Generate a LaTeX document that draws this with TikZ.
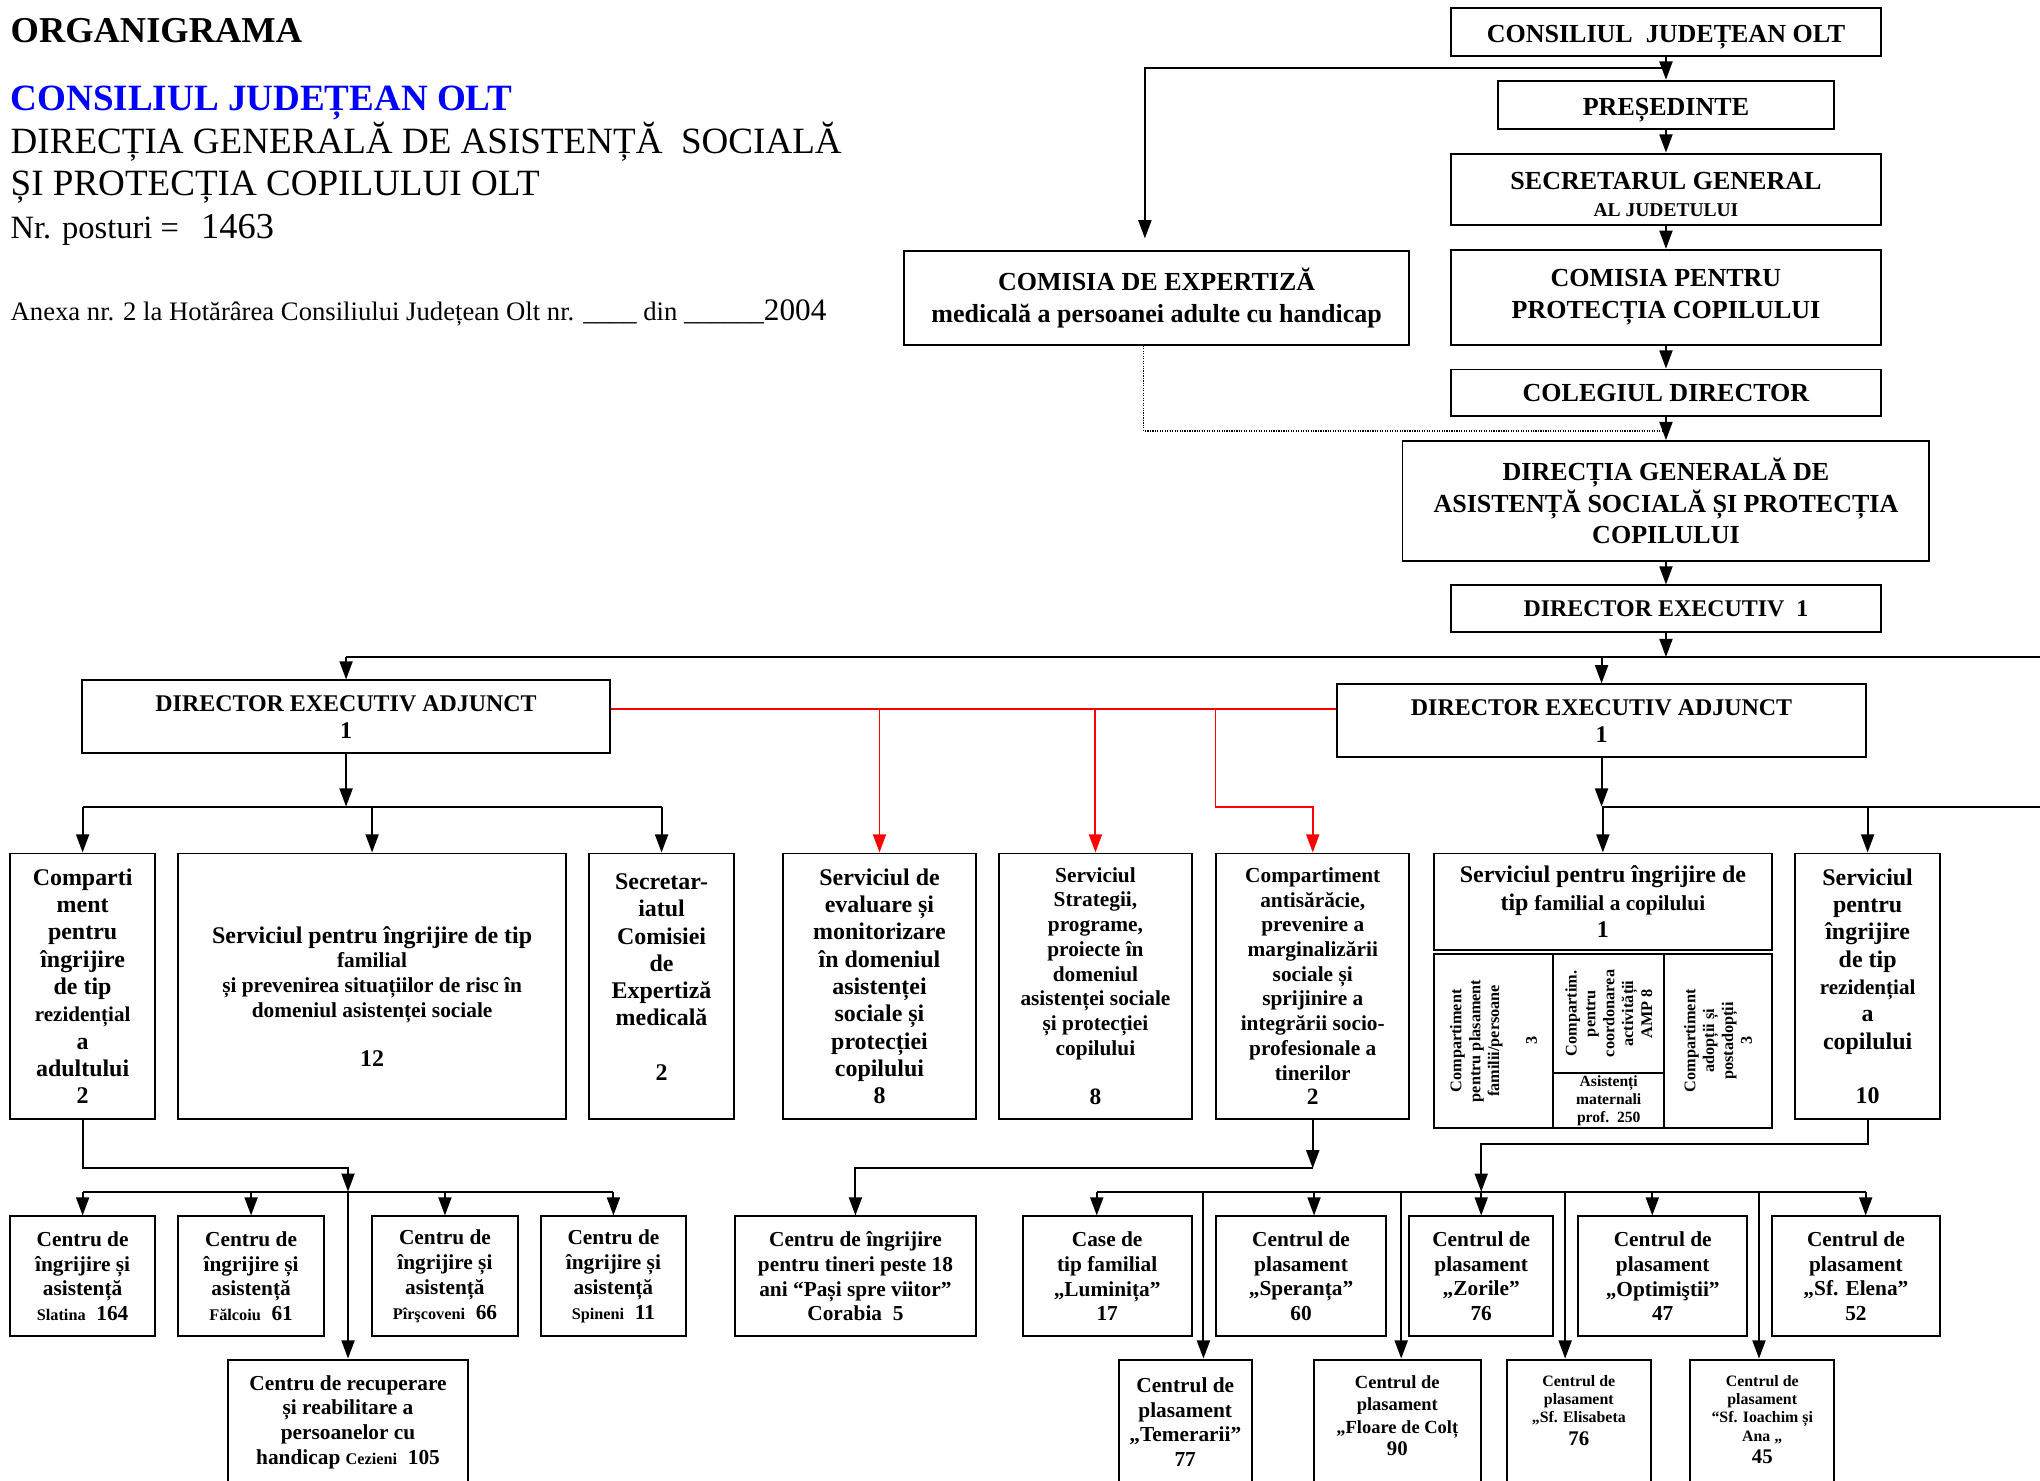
\documentclass[tikz,border=0pt]{standalone}
\usepackage{fontspec}
\setmainfont{Liberation Serif}
\usepackage{tikz}
\usetikzlibrary{arrows.meta}
\usetikzlibrary{calc}
\newcommand{\fsz}[2]{\fontsize{#1}{#2}\selectfont}
\definecolor{titleblue}{RGB}{0,0,255}

\begin{document}
\begin{tikzpicture}[x=1pt, y=-1pt,
    blk/.style={draw, line width=1.5pt, align=center, inner sep=1pt},
    hdbox/.style={blk, font=\bfseries\fsz{20}{24}},
    midbox/.style={blk, font=\bfseries\fsz{18.4}{21}},
    smlbox/.style={blk, font=\bfseries\fsz{16.4}{19}},
    cellbox/.style={blk, font=\bfseries\fsz{12.5}{14.5}, inner sep=0pt},
    hdtext/.style={anchor=base west, inner sep=0pt},
    ln/.style={line width=1.5pt},
    arr/.style={ln, -{Triangle[length=14pt,width=10pt]}},
    rln/.style={ln, red},
    rarr/.style={arr, red},
    dotln/.style={line width=0.9pt, densely dotted}]
  \useasboundingbox (0,0) rectangle (1568,1138);
  \clip (0,0) rectangle (1568,1138);
  \fill[white] (0,0) rectangle (1568,1138);

  % header
  \node[hdtext, font=\bfseries\fsz{28}{28}] (ttl) at (8,33) {ORGANIGRAMA};
  \node[hdtext, font=\bfseries\fsz{28.5}{28.5}, text=titleblue] (cjt) at (8,85) {CONSILIUL JUDEȚEAN OLT};
  \node[hdtext, font=\fsz{28.5}{28.5}] (dg1) at (8,118) {DIRECȚIA GENERALĂ DE ASISTENȚĂ\ \ SOCIALĂ};
  \node[hdtext, font=\fsz{28.5}{28.5}] (dg2) at (8,150) {ȘI PROTECȚIA COPILULUI OLT};
  \node[hdtext, font=\fsz{25}{25}] (npost) at (8,183) {Nr. posturi =\hspace{17pt}{\fsz{28}{28}1463}};
  \node[hdtext, font=\fsz{20.5}{20.5}] (anexa) at (8,246) {Anexa nr. 2 la Hotărârea Consiliului Județean Olt nr. \_\_\_\_ din \_\_\_\_\_\_{\fsz{24}{24}2004}};

  % upper chain
  \node[hdbox, minimum width=331pt, minimum height=37pt] (cjo) at (1280.5,24.5) {\rule{0pt}{22pt}CONSILIUL\ \ JUDEȚEAN OLT};
  \node[hdbox, minimum width=258pt, minimum height=37pt] (pres) at (1280.5,80.5) {\rule{0pt}{21pt}PREȘEDINTE};
  \node[hdbox, minimum width=331pt, minimum height=55pt] (secg) at (1280.5,145.5) {\rule{0pt}{21pt}SECRETARUL GENERAL\\[-3pt]\fsz{15}{18}AL JUDETULUI};
  \node[hdbox, minimum width=331pt, minimum height=73pt] (cpc) at (1280.5,228.5) {COMISIA PENTRU\\PROTECȚIA COPILULUI};
  \node[hdbox, minimum width=331pt, minimum height=36pt] (coleg) at (1280.5,302) {COLEGIUL DIRECTOR};
  \node[hdbox, minimum width=405pt, minimum height=92pt] (dgas) at (1280.5,385) {DIRECȚIA GENERALĂ DE\\ASISTENȚĂ SOCIALĂ ȘI PROTECȚIA\\COPILULUI};
  \node[midbox, minimum width=331pt, minimum height=36pt] (dexec) at (1280.5,468) {DIRECTOR EXECUTIV\ \ 1};
  \node[hdbox, minimum width=388pt, minimum height=72pt] (cemed) at (889,229) {COMISIA DE EXPERTIZĂ\\medicală a persoanei adulte cu handicap};

  \node[midbox, minimum width=406pt, minimum height=56pt] (dea1) at (266,551) {DIRECTOR EXECUTIV ADJUNCT\\1};
  \node[midbox, minimum width=406pt, minimum height=56pt] (dea2) at (1231,554) {DIRECTOR EXECUTIV ADJUNCT\\1};

  % first row
  \node[midbox, minimum width=111pt, minimum height=204pt] (r1a) at (63.5,758) {Comparti\\ment\\pentru\\îngrijire\\de tip\\\fsz{16.2}{21}rezidențial\\a\\adultului\\2};
  \node[smlbox, minimum width=298pt, minimum height=204pt] (r1b) at (286,758) {\rule{0pt}{29pt}\fsz{18.4}{21}Serviciul pentru îngrijire de tip\\familial\\și prevenirea situațiilor de risc în\\domeniul asistenței sociale\\[19pt]\fsz{18.4}{21}12};
  \node[midbox, minimum width=111pt, minimum height=204pt] (r1c) at (508.5,758) {Secretar-\\iatul\\Comisiei\\de\\Expertiză\\medicală\\[21pt]2\rule[-14pt]{0pt}{0pt}};
  \node[midbox, minimum width=148pt, minimum height=204pt] (r1d) at (676,758) {Serviciul de\\evaluare și\\monitorizare\\în domeniul\\asistenței\\sociale și\\protecției\\copilului\\8};
  \node[smlbox, minimum width=148pt, minimum height=204pt] (r1e) at (842,758) {Serviciul\\Strategii,\\programe,\\proiecte în\\domeniul\\asistenței sociale\\și protecției\\copilului\\[19pt]\fsz{18}{19}8};
  \node[smlbox, minimum width=148pt, minimum height=204pt] (r1f) at (1009,758) {Compartiment\\antisărăcie,\\prevenire a\\marginalizării\\sociale și\\sprijinire a\\integrării socio-\\profesionale a\\tinerilor\\\fsz{18}{19}2};
  \node[midbox, minimum width=260pt, minimum height=74pt] (r1g) at (1232,693) {Serviciul pentru îngrijire de\\tip {\fsz{16.4}{19}familial a copilului}\\1};
  \node[cellbox, rotate=90, minimum width=134pt, minimum height=92pt] (t1) at (1148,800) {Compartiment\\pentru plasament\\familii/persoane\\[14.5pt]3};
  \node[cellbox, rotate=90, minimum width=92pt, minimum height=85pt] (t2) at (1236.5,779) {Compartim.\\pentru\\coordonarea\\activității\\AMP 8};
  \node[cellbox, minimum width=85pt, minimum height=42pt, font=\bfseries\fsz{12}{14}] (t4) at (1236.5,846) {Asistenți\\maternali\\prof.~~250};
  \node[cellbox, rotate=90, minimum width=134pt, minimum height=83pt] (t3) at (1320.5,800) {Compartiment\\adopții și\\postadopții\\3};
  \node[midbox, minimum width=111pt, minimum height=204pt] (r1h) at (1435.5,758) {Serviciul\\pentru\\îngrijire\\de tip\\\fsz{16.2}{21}rezidențial\\a\\copilului\\[21pt]10};

  % second row
  \node[smlbox, minimum width=111pt, minimum height=92pt] (c1) at (63.5,981) {Centru de\\îngrijire și\\asistență\\{\fsz{12.5}{19}Slatina}~~164};
  \node[smlbox, minimum width=112pt, minimum height=92pt] (c2) at (193,981) {Centru de\\îngrijire și\\asistență\\{\fsz{12.5}{19}Fălcoiu}~~61};
  \node[smlbox, minimum width=112pt, minimum height=92pt] (c3) at (342,981) {Centru de\\îngrijire și\\asistență\\{\fsz{12.5}{19}Pîrşcoveni}~~66};
  \node[smlbox, minimum width=111pt, minimum height=92pt] (c4) at (471.5,981) {Centru de\\îngrijire și\\asistență\\{\fsz{12.5}{19}Spineni}~~11};
  \node[smlbox, minimum width=185pt, minimum height=92pt] (tin) at (657.5,981) {Centru de îngrijire\\pentru tineri peste 18\\ani “Pași spre viitor”\\Corabia~~5};
  \node[smlbox, minimum width=130pt, minimum height=92pt] (cas) at (851,981) {Case de\\tip familial\\„Luminița”\\17};
  \node[smlbox, minimum width=130pt, minimum height=92pt] (spe) at (1000,981) {Centrul de\\plasament\\„Speranța”\\60};
  \node[smlbox, minimum width=111pt, minimum height=92pt] (zor) at (1138.5,981) {Centrul de\\plasament\\„Zorile”\\76};
  \node[smlbox, minimum width=130pt, minimum height=92pt] (opt) at (1278,981) {Centrul de\\plasament\\„Optimiştii”\\47};
  \node[smlbox, minimum width=129pt, minimum height=92pt] (ele) at (1426.5,981) {Centrul de\\plasament\\„Sf. Elena”\\52};

  % third row
  \node[smlbox, minimum width=185pt, minimum height=96pt] (rec) at (267.5,1093) {Centru de recuperare\\și reabilitare a\\persoanelor cu\\handicap {\fsz{12.5}{19}Cezieni}~~105};
  \node[smlbox, minimum width=102pt, minimum height=96pt] (tem) at (911,1093) {Centrul de\\plasament\\„Temerarii”\\77};
  \node[blk, font=\bfseries\fsz{14.2}{17}, minimum width=128pt, minimum height=96pt] (flo) at (1074,1093) {Centrul de\\plasament\\„Floare de Colț\\\fsz{16}{17}90\rule[-10pt]{0pt}{0pt}};
  \node[blk, font=\bfseries\fsz{12.2}{14}, minimum width=111pt, minimum height=96pt] (eli) at (1213.5,1093) {Centrul de\\plasament\\„Sf. Elisabeta\\[3pt]\fsz{16}{17}76\rule[-18pt]{0pt}{0pt}};
  \node[blk, font=\bfseries\fsz{12.2}{14}, minimum width=111pt, minimum height=96pt] (ioa) at (1354.5,1093) {Centrul de\\plasament\\“Sf. Ioachim și\\Ana „\\[3pt]\fsz{16}{17}45\rule[-4pt]{0pt}{0pt}};

  % connectors
  \coordinate (busde) at (266,505);
  \coordinate (edge) at (1568,505);
  \coordinate (red) at (0,545);
  \coordinate (bus1) at (0,620);
  \coordinate (bus2h) at (0,879);
  \coordinate (bus2a) at (0,898);
  \coordinate (bus2) at (0,916);

  \draw[arr] (cjo) -- (pres);
  \draw[arr, shorten >=9pt] ($(cjo.south)!.5!(pres.north)$) -| ([xshift=-9pt]cemed.north);
  \draw[arr] (pres) -- (secg);
  \draw[arr] (secg) -- (cpc);
  \draw[arr] (cpc) -- (coleg);
  \draw[arr] (coleg) -- (dgas);
  \draw[arr] (dgas) -- (dexec);
  \draw[dotln] ([xshift=-10pt]cemed.south) |- ($(coleg.south)!.6!(dgas.north)$);

  \draw[arr] (dexec) -- (dexec |- busde);
  \draw[line width=1.9pt] (busde) -- (edge);
  \draw[arr] (busde) -- (dea1);
  \draw[arr] (dea2 |- busde) -- (dea2);

  \draw[rln] (dea1.east |- red) -- (dea2.west |- red);
  \draw[rarr] (r1d |- red) -- (r1d);
  \draw[rarr] (r1e |- red) -- (r1e);
  \draw[rarr] (r1f.west |- red) -- (r1f.west |- bus1) -| (r1f.north);

  \draw[arr] (dea1) -- (dea1 |- bus1);
  \draw[ln] (r1a |- bus1) -- (r1c |- bus1);
  \foreach \n in {r1a,r1b,r1c}
    \draw[arr] (\n |- bus1) -- (\n);
  \draw[arr] (dea2) -- (dea2 |- bus1);
  \draw[ln] (dea2 |- bus1) -- (edge |- bus1);
  \foreach \n in {r1g,r1h}
    \draw[arr] (\n |- bus1) -- (\n);

  \draw[arr] (r1a) |- (rec |- bus2a) -- (rec |- bus2);
  \draw[ln] (c1 |- bus2) -- (c4 |- bus2);
  \foreach \n in {c1,c2,c3,c4,rec}
    \draw[arr] (\n |- bus2) -- (\n);

  \draw[arr] (r1f) -- (r1f |- bus2a);
  \draw[arr] (r1f |- bus2a) -| (tin);

  \draw[arr] (r1h) |- (zor |- bus2h) -- (zor |- bus2);
  \foreach \x/\n in {843/cas,1010/spe,1138.5/zor,1270/opt,1434/ele}{
    \coordinate (a\n) at (\x,916);
    \draw[arr] (a\n) -- (a\n |- \n.north);
  }
  \draw[ln] (acas) -- (aele);
  \foreach \x/\n in {925/tem,1077/flo,1203/eli,1352/ioa}{
    \coordinate (b\n) at (\x,916);
    \draw[arr] (b\n) -- (b\n |- \n.north);
  }
\end{tikzpicture}
\end{document}
